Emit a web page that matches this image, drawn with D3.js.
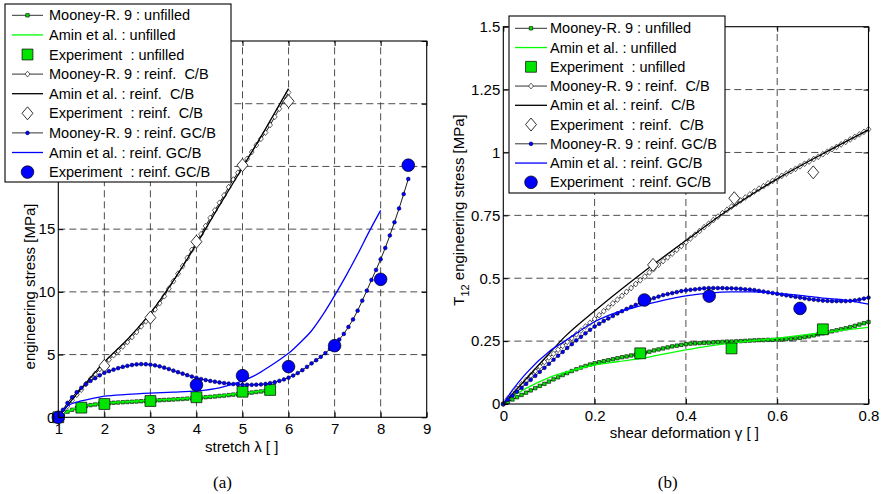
<!DOCTYPE html>
<html>
<head>
<meta charset="utf-8">
<script src="https://cdnjs.cloudflare.com/ajax/libs/d3/7.8.5/d3.min.js"></script>
<style>
  body { margin: 0; background: #fff; }
  svg { display: block; }
  text { font-family: "Liberation Sans", Arial, Helvetica, sans-serif; fill: #000; }
</style>
</head>
<body>
<svg id="chart" width="882" height="494"></svg>
<script>
// ---------- (a) uniaxial tension ----------
const stretchTicks = [1, 2, 3, 4, 5, 6, 7, 8, 9];
const stressTicksA = [0, 5, 10, 15, 20, 25, 30];
// labels above 15 sit under the legend box
const stressTickLabelsA = ["0", "5", "10", "15", "", "", ""];

const expStretchUnfilled = [1, 1.5, 2, 3, 4, 5, 5.6];
const expStressUnfilled  = [0, 0.77, 1.06, 1.3, 1.6, 2.04, 2.18];
const expStretchCB = [1, 2, 3, 4, 5, 6];
const expStressCB  = [0, 4.1, 7.95, 14.0, 20.1, 25.2];
const expStretchGCB = [1, 4, 5, 6, 7, 8, 8.6];
const expStressGCB  = [0, 2.58, 3.32, 4.04, 5.71, 11.0, 20.1];

// Mooney-Rivlin (9 parameters), one value every 0.1 of stretch, starting at 1
const mooneyStressUnfilledA = [
  0, 0.25, 0.45, 0.6, 0.72, 0.82, 0.9, 0.97, 1.02, 1.07,
  1.1, 1.13, 1.16, 1.18, 1.2, 1.22, 1.24, 1.26, 1.28, 1.3,
  1.32, 1.34, 1.36, 1.38, 1.4, 1.42, 1.44, 1.46, 1.49, 1.51,
  1.54, 1.57, 1.6, 1.63, 1.66, 1.7, 1.73, 1.77, 1.81, 1.85,
  1.89, 1.93, 1.97, 2.02, 2.06, 2.11, 2.16];
const mooneyStressCBA = [
  0, 0.45, 0.9, 1.35, 1.8, 2.2, 2.65, 3.05, 3.45, 3.85,
  4.25, 4.6, 4.95, 5.3, 5.65, 6.0, 6.4, 6.8, 7.25, 7.65,
  8.1, 8.6, 9.1, 9.65, 10.25, 10.85, 11.45, 12.05, 12.7, 13.35,
  13.95, 14.6, 15.25, 15.9, 16.5, 17.1, 17.7, 18.35, 18.95, 19.5,
  20.05, 20.6, 21.15, 21.7, 22.2, 22.7, 23.3, 23.95, 24.6, 25.25,
  25.9];
const mooneyStressGCBA = [
  0, 0.6, 1.15, 1.6, 2.0, 2.35, 2.65, 2.9, 3.12, 3.35,
  3.55, 3.68, 3.8, 3.92, 4.02, 4.1, 4.17, 4.22, 4.24, 4.23,
  4.2, 4.14, 4.06, 3.96, 3.85, 3.72, 3.6, 3.48, 3.36, 3.25,
  3.15, 3.05, 2.97, 2.9, 2.84, 2.78, 2.73, 2.69, 2.65, 2.62,
  2.6, 2.59, 2.59, 2.6, 2.62, 2.66, 2.72, 2.8, 2.9, 3.02,
  3.16, 3.33, 3.53, 3.76, 4.02, 4.3, 4.55, 4.82, 5.12, 5.45,
  5.8, 6.2, 6.65, 7.2, 7.8, 8.5, 9.3, 10.1, 10.95, 11.75,
  12.6, 13.5, 14.5, 15.55, 16.65, 17.8, 19.0];

// Amin et al. model
const aminStretchUnfilled = [1, 1.25, 1.5, 2, 2.5, 3, 3.5, 4, 4.5, 5, 5.6];
const aminStressUnfilled  = [0, 0.55, 0.85, 1.12, 1.25, 1.35, 1.45, 1.58, 1.73, 1.92, 2.2];
const aminStretchCB = [1, 1.5, 2, 2.5, 3, 3.5, 4, 4.5, 5, 5.5, 6];
const aminStressCB  = [0, 2.3, 4.4, 6.2, 8.3, 10.9, 13.8, 16.9, 19.9, 23.0, 26.2];
const aminStretchGCB = [1, 1.1, 1.2, 1.3, 1.4, 1.5, 1.75, 2, 2.5, 3, 3.5, 4, 4.5, 5,
  5.25, 5.5, 5.75, 6, 6.25, 6.5, 6.75, 7, 7.25, 7.5, 7.75, 8];
const aminStressGCB  = [0, 0.55, 0.9, 1.1, 1.2, 1.3, 1.5, 1.68, 1.82, 1.92, 2.0, 2.1, 2.35, 2.9,
  3.3, 3.85, 4.45, 5.1, 5.95, 6.9, 8.2, 9.7, 11.3, 13.0, 14.8, 16.5];

// ---------- (b) simple shear ----------
const shearTicks = [0, 0.2, 0.4, 0.6, 0.8];
const shearTickLabels = ["0", "0.2", "0.4", "0.6", "0.8"];
const stressTicksB = [0, 0.25, 0.5, 0.75, 1, 1.25, 1.5];
const stressTickLabelsB = ["0", "0.25", "0.5", "0.75", "1", "1.25", "1.5"];

const expShearUnfilled = [0.3, 0.5, 0.7];
const expShearStressUnfilled = [0.2015, 0.221, 0.297];
const expShearCB = [0.328, 0.506, 0.679];
const expShearStressCB = [0.553, 0.818, 0.921];
const expShearGCB = [0.309, 0.451, 0.65];
const expShearStressGCB = [0.4135, 0.429, 0.38];

// Mooney-Rivlin (9 parameters), one value every 0.01 of shear, starting at 0
const mooneyShearUnfilled = [
  0, 0.009, 0.018, 0.027, 0.036, 0.045, 0.054, 0.063, 0.072, 0.08,
  0.089, 0.098, 0.106, 0.115, 0.123, 0.131, 0.138, 0.145, 0.151, 0.157,
  0.162, 0.166, 0.17, 0.174, 0.178, 0.182, 0.186, 0.189, 0.193, 0.196,
  0.2, 0.204, 0.208, 0.213, 0.217, 0.221, 0.225, 0.229, 0.232, 0.235,
  0.238, 0.24, 0.241, 0.242, 0.243, 0.244, 0.245, 0.246, 0.247, 0.248,
  0.248, 0.249, 0.25, 0.251, 0.252, 0.253, 0.254, 0.254, 0.255, 0.255,
  0.256, 0.257, 0.258, 0.259, 0.261, 0.263, 0.266, 0.269, 0.273, 0.277,
  0.281, 0.285, 0.289, 0.293, 0.297, 0.301, 0.306, 0.311, 0.316, 0.321,
  0.326];
const mooneyShearCB = [
  0, 0.022, 0.042, 0.06, 0.078, 0.095, 0.113, 0.131, 0.149, 0.167,
  0.185, 0.2, 0.216, 0.231, 0.247, 0.262, 0.277, 0.292, 0.308, 0.323,
  0.338, 0.353, 0.369, 0.384, 0.4, 0.415, 0.43, 0.446, 0.461, 0.477,
  0.492, 0.507, 0.523, 0.538, 0.553, 0.568, 0.583, 0.598, 0.613, 0.628,
  0.643, 0.658, 0.673, 0.688, 0.703, 0.717, 0.731, 0.745, 0.759, 0.772,
  0.785, 0.797, 0.809, 0.821, 0.833, 0.845, 0.856, 0.866, 0.877, 0.887,
  0.897, 0.907, 0.916, 0.926, 0.935, 0.945, 0.955, 0.964, 0.974, 0.983,
  0.993, 1.003, 1.013, 1.022, 1.032, 1.042, 1.052, 1.062, 1.072, 1.082,
  1.092];
const mooneyShearGCB = [
  0, 0.017, 0.033, 0.049, 0.064, 0.08, 0.096, 0.112, 0.128, 0.144,
  0.16, 0.176, 0.192, 0.207, 0.223, 0.238, 0.253, 0.267, 0.281, 0.295,
  0.308, 0.319, 0.33, 0.34, 0.35, 0.36, 0.369, 0.378, 0.386, 0.394,
  0.402, 0.409, 0.415, 0.421, 0.427, 0.433, 0.437, 0.441, 0.445, 0.449,
  0.452, 0.454, 0.456, 0.458, 0.46, 0.461, 0.461, 0.461, 0.461, 0.46,
  0.46, 0.459, 0.458, 0.456, 0.455, 0.453, 0.45, 0.447, 0.444, 0.441,
  0.438, 0.435, 0.432, 0.429, 0.426, 0.423, 0.42, 0.417, 0.415, 0.413,
  0.411, 0.41, 0.409, 0.409, 0.409, 0.409, 0.41, 0.412, 0.415, 0.419,
  0.423];

const aminShearUnfilled = [0, 0.02, 0.05, 0.1, 0.15, 0.2, 0.25, 0.3, 0.35, 0.4, 0.45, 0.5, 0.55, 0.6, 0.65, 0.7, 0.75, 0.8];
const aminShearStressUnfilled = [0, 0.03, 0.062, 0.105, 0.133, 0.155, 0.168, 0.18, 0.198, 0.215, 0.23, 0.242, 0.252, 0.262, 0.273, 0.284, 0.295, 0.305];
const aminShearCB = [0, 0.05, 0.1, 0.135, 0.2, 0.3, 0.4, 0.5, 0.6, 0.7, 0.8];
const aminShearStressCB = [0, 0.1, 0.2, 0.268, 0.37, 0.515, 0.65, 0.78, 0.895, 0.995, 1.09];
const aminShearGCB = [0, 0.02, 0.05, 0.1, 0.135, 0.2, 0.25, 0.3, 0.35, 0.4, 0.45, 0.5, 0.55, 0.6, 0.65, 0.7, 0.75, 0.8];
const aminShearStressGCB = [0, 0.055, 0.122, 0.208, 0.25, 0.327, 0.365, 0.39, 0.412, 0.43, 0.441, 0.446, 0.446, 0.44, 0.432, 0.421, 0.413, 0.397];

const legendLabels = [
  "Mooney-R. 9 : unfilled",
  "Amin et al. : unfilled",
  "Experiment  : unfilled",
  "Mooney-R. 9 : reinf.  C/B",
  "Amin et al. : reinf.  C/B",
  "Experiment  : reinf.  C/B",
  "Mooney-R. 9 : reinf. GC/B",
  "Amin et al. : reinf. GC/B",
  "Experiment  : reinf. GC/B"
];

// ---------- styles ----------
const GREEN_LINE = "#00ff00";
const GREEN_FILL = "#00e400";
const BLUE = "#0000ff";

// MATLAB-like diamond: a bit taller than wide
const diamondType = {
  draw(ctx, size) {
    const h = Math.sqrt(size) * 0.62, w = h * 0.84;
    ctx.moveTo(0, -h); ctx.lineTo(w, 0); ctx.lineTo(0, h); ctx.lineTo(-w, 0); ctx.closePath();
  }
};

const markerStyles = {
  smallSquare:  { type: d3.symbolSquare, size: 12, fill: GREEN_FILL, stroke: "#000", sw: 0.6 },
  smallDiamond: { type: diamondType, size: 22, fill: "#fff", stroke: "#000", sw: 0.6 },
  smallDot:     { type: d3.symbolCircle, size: 11, fill: BLUE, stroke: "#000050", sw: 0.6 },
  bigSquare:    { type: d3.symbolSquare, size: 118, fill: GREEN_FILL, stroke: "#000", sw: 0.7 },
  bigDiamond:   { type: diamondType, size: 110, fill: "#fff", stroke: "#000", sw: 0.8 },
  bigCircle:    { type: d3.symbolCircle, size: 126, fill: BLUE, stroke: "#000", sw: 0.7 }
};

const svg = d3.select("#chart");
svg.append("rect").attr("width", 882).attr("height", 494).attr("fill", "#fff");

function zipXY(xs, ys) { return xs.map((x, i) => ({ x, y: ys[i] })); }
function stepped(start, step, ys) { return ys.map((y, i) => ({ x: start + i * step, y })); }

function drawMarkers(g, pts, x, y, m) {
  const sym = d3.symbol().type(m.type).size(m.size);
  g.append("g").selectAll("path").data(pts).join("path")
    .attr("d", sym)
    .attr("transform", d => `translate(${x(d.x)},${y(d.y)})`)
    .attr("fill", m.fill).attr("stroke", m.stroke).attr("stroke-width", m.sw);
}

function drawPanel(p) {
  const { x, y } = p;
  const g = svg.append("g");
  const [x0, x1] = x.range(), [y0, y1] = y.range();

  // dashed grid
  const grid = g.append("g").attr("stroke", "#3a3a3a").attr("stroke-width", 0.9)
    .attr("stroke-dasharray", "7,4");
  grid.selectAll(".gx").data(p.xTicks.slice(1, -1)).join("line")
    .attr("x1", d => x(d)).attr("x2", d => x(d)).attr("y1", y0).attr("y2", y1);
  grid.selectAll(".gy").data(p.yTicks.slice(1, -1)).join("line")
    .attr("x1", x0).attr("x2", x1).attr("y1", d => y(d)).attr("y2", d => y(d));

  const plot = g.append("g");
  const lineLin = d3.line().x(d => x(d.x)).y(d => y(d.y));
  const lineSmooth = d3.line().x(d => x(d.x)).y(d => y(d.y)).curve(d3.curveMonotoneX);

  p.series.forEach(s => {
    if (s.kind === "mooney") {
      plot.append("path").datum(s.pts).attr("d", lineLin)
        .attr("fill", "none").attr("stroke", "#000").attr("stroke-width", 0.9);
      drawMarkers(plot, s.pts, x, y, markerStyles[s.marker]);
    } else if (s.kind === "amin") {
      plot.append("path").datum(s.pts).attr("d", lineSmooth)
        .attr("fill", "none").attr("stroke", s.color).attr("stroke-width", 1.3);
    } else {
      drawMarkers(plot, s.pts, x, y, markerStyles[s.marker]);
    }
  });

  // frame and inward ticks on all four sides
  g.append("rect").attr("x", x0).attr("y", y1).attr("width", x1 - x0).attr("height", y0 - y1)
    .attr("fill", "none").attr("stroke", "#000").attr("stroke-width", 1.1);

  const font = "15px";
  const bottom = g.append("g").attr("transform", `translate(0,${y0})`)
    .call(d3.axisBottom(x).tickValues(p.xTicks).tickFormat((d, i) => p.xLabels[i])
      .tickSize(-5).tickSizeOuter(0).tickPadding(6));
  const left = g.append("g").attr("transform", `translate(${x0},0)`)
    .call(d3.axisLeft(y).tickValues(p.yTicks).tickFormat((d, i) => p.yLabels[i])
      .tickSize(-5).tickSizeOuter(0).tickPadding(3));
  g.append("g").attr("transform", `translate(0,${y1})`)
    .call(d3.axisTop(x).tickValues(p.xTicks).tickFormat("").tickSize(-5).tickSizeOuter(0));
  g.append("g").attr("transform", `translate(${x1},0)`)
    .call(d3.axisRight(y).tickValues(p.yTicks).tickFormat("").tickSize(-5).tickSizeOuter(0));
  g.selectAll(".domain").remove();
  g.selectAll(".tick line").attr("stroke", "#000").attr("stroke-width", 1);
  [bottom, left].forEach(a => a.selectAll("text")
    .attr("font-size", font).attr("font-family", "'Liberation Sans', Arial, sans-serif").attr("fill", "#000"));
  // empty labels are not kept
  g.selectAll(".tick text").filter(function () { return this.textContent === ""; }).remove();

  // axis titles
  const xl = g.append("text").attr("x", p.xLabelPos[0]).attr("y", p.xLabelPos[1])
    .attr("text-anchor", "middle").attr("dy", "0.35em").attr("font-size", font);
  p.xLabel(xl);
  const yl = g.append("text")
    .attr("transform", `translate(${p.yLabelPos[0]},${p.yLabelPos[1]}) rotate(-90)`)
    .attr("text-anchor", "middle").attr("dy", "0.35em").attr("font-size", font);
  p.yLabel(yl);

  // panel caption
  g.append("text").attr("x", p.caption[1]).attr("y", p.caption[2]).attr("dy", "0.35em")
    .attr("text-anchor", "middle").attr("font-size", "17px")
    .attr("font-family", "'Liberation Serif', 'Times New Roman', serif")
    .style("font-family", "'Liberation Serif', 'Times New Roman', serif").text(p.caption[0]);

  // legend
  const L = p.legend;
  const lg = g.append("g");
  lg.append("rect").attr("x", L.x).attr("y", L.y).attr("width", L.w).attr("height", L.h)
    .attr("fill", "#fff").attr("stroke", "#000").attr("stroke-width", 1.1);
  p.series.forEach((s, i) => {
    const cy = L.row0 + i * L.dy;
    const mx = (L.lx0 + L.lx1) / 2;
    if (s.kind === "mooney") {
      lg.append("line").attr("x1", L.lx0).attr("x2", L.lx1).attr("y1", cy).attr("y2", cy)
        .attr("stroke", "#333").attr("stroke-width", 1);
      const m = markerStyles[s.marker];
      lg.append("path").attr("d", d3.symbol().type(m.type).size(m.size)())
        .attr("transform", `translate(${mx},${cy})`)
        .attr("fill", m.fill).attr("stroke", m.stroke).attr("stroke-width", m.sw);
    } else if (s.kind === "amin") {
      lg.append("line").attr("x1", L.lx0).attr("x2", L.lx1).attr("y1", cy).attr("y2", cy)
        .attr("stroke", s.color).attr("stroke-width", 1.3);
    } else {
      const m = markerStyles[s.marker];
      lg.append("path").attr("d", d3.symbol().type(m.type).size(m.size)())
        .attr("transform", `translate(${mx},${cy})`)
        .attr("fill", m.fill).attr("stroke", m.stroke).attr("stroke-width", m.sw);
    }
    lg.append("text").attr("x", L.tx).attr("y", cy).attr("dy", "0.35em")
      .attr("font-size", "14.5px").attr("xml:space", "preserve")
      .style("white-space", "pre").text(legendLabels[i]);
  });
}

// ---- panel (a)
drawPanel({
  x: d3.scaleLinear().domain([1, 9]).range([58.3, 426.7]),
  y: d3.scaleLinear().domain([0, 30]).range([417.3, 41]),
  xTicks: stretchTicks, yTicks: stressTicksA,
  xLabels: stretchTicks.map(String), yLabels: stressTickLabelsA,
  series: [
    { kind: "mooney", marker: "smallSquare", pts: stepped(1, 0.1, mooneyStressUnfilledA) },
    { kind: "amin", color: GREEN_LINE, pts: zipXY(aminStretchUnfilled, aminStressUnfilled) },
    { kind: "exp", marker: "bigSquare", pts: zipXY(expStretchUnfilled, expStressUnfilled) },
    { kind: "mooney", marker: "smallDiamond", pts: stepped(1, 0.1, mooneyStressCBA) },
    { kind: "amin", color: "#000", pts: zipXY(aminStretchCB, aminStressCB) },
    { kind: "exp", marker: "bigDiamond", pts: zipXY(expStretchCB, expStressCB) },
    { kind: "mooney", marker: "smallDot", pts: stepped(1, 0.1, mooneyStressGCBA) },
    { kind: "amin", color: BLUE, pts: zipXY(aminStretchGCB, aminStressGCB) },
    { kind: "exp", marker: "bigCircle", pts: zipXY(expStretchGCB, expStressGCB) }
  ],
  xLabelPos: [241.7, 446.7],
  xLabel: t => t.text("stretch λ [ ]"),
  yLabelPos: [30, 286.5],
  yLabel: t => t.text("engineering stress [MPa]"),
  caption: ["(a)", 222.5, 481.7],
  legend: { x: 5, y: 4, w: 226, h: 178, row0: 15.3, dy: 19.6, lx0: 12, lx1: 43, tx: 49 }
});

// ---- panel (b)
drawPanel({
  x: d3.scaleLinear().domain([0, 0.8]).range([503.3, 868.5]),
  y: d3.scaleLinear().domain([0, 1.5]).range([404, 26.7]),
  xTicks: shearTicks, yTicks: stressTicksB,
  xLabels: shearTickLabels, yLabels: stressTickLabelsB,
  series: [
    { kind: "mooney", marker: "smallSquare", pts: stepped(0, 0.01, mooneyShearUnfilled) },
    { kind: "amin", color: GREEN_LINE, pts: zipXY(aminShearUnfilled, aminShearStressUnfilled) },
    { kind: "exp", marker: "bigSquare", pts: zipXY(expShearUnfilled, expShearStressUnfilled) },
    { kind: "mooney", marker: "smallDiamond", pts: stepped(0, 0.01, mooneyShearCB) },
    { kind: "amin", color: "#000", pts: zipXY(aminShearCB, aminShearStressCB) },
    { kind: "exp", marker: "bigDiamond", pts: zipXY(expShearCB, expShearStressCB) },
    { kind: "mooney", marker: "smallDot", pts: stepped(0, 0.01, mooneyShearGCB) },
    { kind: "amin", color: BLUE, pts: zipXY(aminShearGCB, aminShearStressGCB) },
    { kind: "exp", marker: "bigCircle", pts: zipXY(expShearGCB, expShearStressGCB) }
  ],
  xLabelPos: [684.3, 433],
  xLabel: t => t.text("shear deformation γ [ ]"),
  yLabelPos: [459, 210],
  yLabel: t => {
    t.append("tspan").text("T");
    t.append("tspan").attr("font-size", "11px").attr("dy", "5").text("12");
    t.append("tspan").attr("dy", "-5").text(" engineering stress [MPa]");
  },
  caption: ["(b)", 667.7, 481.7],
  legend: { x: 509, y: 16, w: 216, h: 177, row0: 28.3, dy: 19.25, lx0: 515, lx1: 547, tx: 550 }
});
</script>
</body>
</html>
